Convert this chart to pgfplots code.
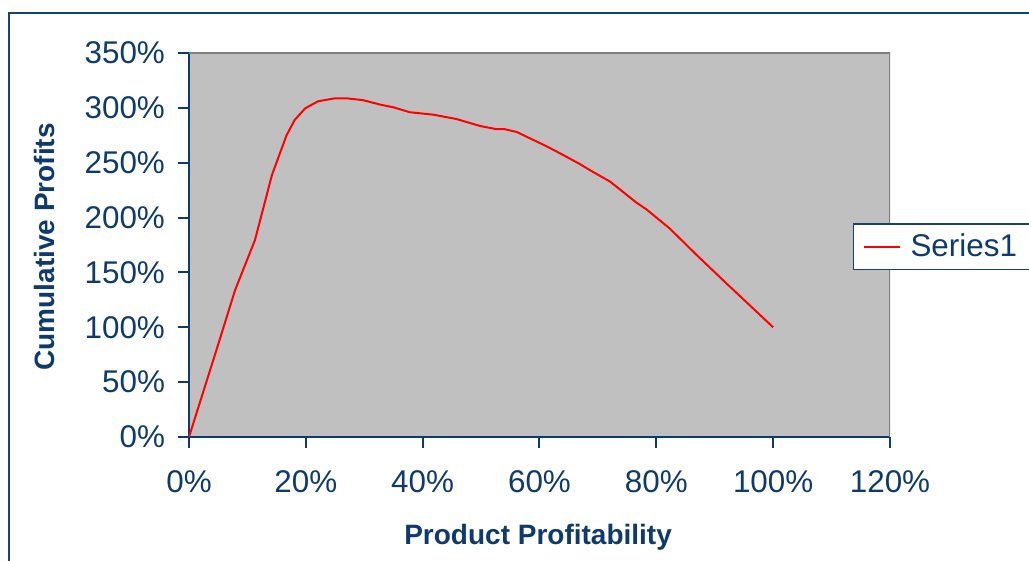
\documentclass[border=0pt]{standalone}
\usepackage{pgfplots}
\pgfplotsset{compat=1.18}
\usepackage{fontspec}
\setmainfont{Liberation Sans}
\definecolor{navy}{HTML}{0E3A6E}
\definecolor{framec}{HTML}{17416F}
\definecolor{plotgray}{HTML}{C0C0C0}
\definecolor{bordergray}{HTML}{808080}
\begin{document}
\begin{tikzpicture}
\path[use as bounding box] (-94.5pt,-62pt) rectangle (420pt,218.5pt);
\draw[framec, line width=1pt] (-89.75pt,-80pt) -- (-89.75pt,211.75pt) -- (440pt,211.75pt);
\begin{axis}[
  at={(0,0)}, anchor=south west,
  scale only axis,
  width=350.5pt, height=192pt,
  xmin=0, xmax=120, ymin=0, ymax=350,
  axis x line*=bottom, axis y line*=left,
  axis line style={navy, line width=1pt, -},
  axis background/.style={fill=plotgray},
  xtick={0,20,40,60,80,100,120},
  xticklabels={0\%,20\%,40\%,60\%,80\%,100\%,120\%},
  ytick={0,50,100,150,200,250,300,350},
  yticklabels={0\%,50\%,100\%,150\%,200\%,250\%,300\%,350\%},
  tick align=outside,
  major tick length=5.5pt,
  tick style={navy, line width=1pt},
  ticklabel style={font=\fontsize{15.7}{18}\selectfont, text=navy},
  xticklabel style={yshift=-8pt},
  yticklabel style={xshift=-3pt},
  xlabel={Product Profitability},
  ylabel={Cumulative Profits},
  label style={font=\fontsize{14}{17}\selectfont\bfseries, text=navy},
  xlabel style={at={(axis description cs:0.498,-0.279)}, anchor=base},
  ylabel style={at={(axis description cs:-0.206,0.495)}, anchor=center},
  legend style={draw=framec, line width=0.7pt, fill=white,
    at={(rel axis cs:0.947,0.495)}, anchor=west,
    inner xsep=4.5pt, inner ysep=3pt,
    font=\fontsize{15.7}{18}\selectfont, text=navy,
    /tikz/every odd column/.append style={column sep=3pt}},
  legend image code/.code={\draw[#1, line width=1pt] (0pt,0pt) -- (18pt,0pt);},
]
\addplot[red, line width=1pt] coordinates {
(0,0)
(2.45,41.3)
(4.7,79.3)
(7.9,134)
(11.3,179.6)
(14.2,238.8)
(16.7,275)
(18.1,289)
(19.9,299.6)
(22.1,306)
(25,308.7)
(27,308.7)
(29.8,307)
(32.7,303)
(35,300.5)
(37.8,296)
(41.8,293.8)
(45.8,289.8)
(49.8,283.5)
(52.7,280.5)
(54.1,280.5)
(56.1,278)
(61.2,265)
(63.5,258.6)
(66.9,248.8)
(68.7,243)
(72.1,232.7)
(76.6,213.6)
(78.3,207.5)
(82.3,190)
(86.9,165.9)
(92,140)
(100,100)
};
\addlegendentry{Series1}
\draw[bordergray, line width=1pt] (rel axis cs:0,1) -- (rel axis cs:1,1) -- (rel axis cs:1,0);
\end{axis}
\end{tikzpicture}
\end{document}
